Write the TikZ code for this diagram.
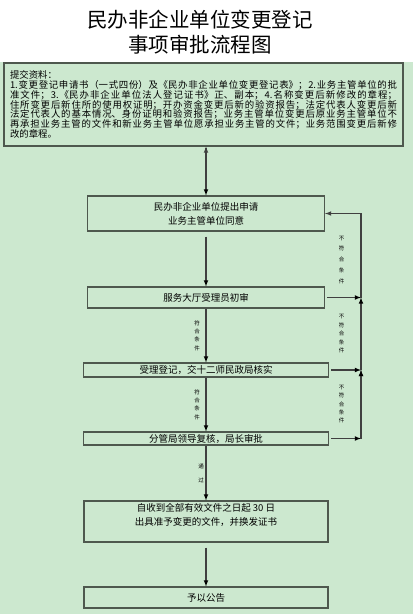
\documentclass[tikz,border=0pt]{standalone}
\usepackage{fontspec}
\newfontfamily\cjk{Noto Sans CJK SC}
\XeTeXlinebreaklocale "zh"
\XeTeXlinebreakskip=0pt plus 1pt
\definecolor{eyegreen}{RGB}{204,232,207}
\definecolor{boxline}{RGB}{78,88,78}

\begin{document}
\begin{tikzpicture}[x=1pt, y=-1pt, >=latex,
  box/.style={draw=boxline, line width=1.2pt, fill=eyegreen, inner xsep=2pt, inner ysep=0.5pt,
    align=center, font=\cjk\fontsize{9.5}{14}\selectfont},
  lbl/.style={inner sep=0pt, align=center, text=black, font=\cjk\fontsize{5.5}{8.4}\selectfont},
  lblwide/.style={lbl, font=\cjk\fontsize{5.5}{10.7}\selectfont},
  link/.style={->, draw=black!75, line width=1.1pt}]

  \useasboundingbox (0,0) rectangle (413,614);
  \fill[white] (0,0) rectangle (413,62);
  \fill[eyegreen] (0,62) rectangle (413,614);

  \node[font=\cjk\fontsize{20.5}{24}\selectfont] (title1) at (200,20) {民办非企业单位变更登记};
  \node[font=\cjk\fontsize{20.5}{24}\selectfont] (title2) at (200,45) {事项审批流程图};

  \node[box, minimum width=399pt, minimum height=83pt, text width=387pt, align=justify,
    font=\cjk\fontsize{9.4}{9.7}\selectfont] (materials) at (203.5,104.5)
    {提交资料：\par
     1.变更登记申请书（一式四份）及《民办非企业单位变更登记表》；2.业务主管单位的批\linebreak
     准文件；3.《民办非企业单位法人登记证书》正、副本；4.名称变更后新修改的章程；\linebreak
     住所变更后新住所的使用权证明；开办资金变更后新的验资报告；法定代表人变更后新\linebreak
     法定代表人的基本情况、身份证明和验资报告；业务主管单位变更后原业务主管单位不\linebreak
     再承担业务主管的文件和新业务主管单位愿承担业务主管的文件；业务范围变更后新修\linebreak
     改的章程。};

  \node[box, minimum width=237pt, minimum height=35pt] (b1) at (206,213.5)
    {民办非企业单位提出申请\\业务主管单位同意};
  \node[box, minimum width=237pt, minimum height=21pt] (b2) at (206,297.5) {服务大厅受理员初审};
  \node[box, minimum width=245pt, minimum height=14pt] (b3) at (206,370) {受理登记，交十二师民政局核实};
  \node[box, minimum width=245pt, minimum height=13pt] (b4) at (206,438.5) {分管局领导复核，局长审批};
  \node[box, minimum width=244pt, minimum height=41pt] (b5) at (206,521.5)
    {自收到全部有效文件之日起 30 日\\出具准予变更的文件，并换发证书\\\mbox{}};
  \node[box, minimum width=244pt, minimum height=21pt] (b6) at (206,597.5) {予以公告};

  \coordinate (rail) at (361,0);
  \coordinate (r1) at (b1.east -| rail);
  \coordinate (r2) at (b2.east -| rail);
  \coordinate (r3) at (b3.east -| rail);
  \coordinate (r4) at (b4.east -| rail);

  \path[link] (b1 |- materials.south) edge[shorten <=1pt] (b1)
        (b1) edge[shorten <=5pt] (b2)
        (b2) edge node[lbl, left=5.5pt, name=ok1] {符\\合\\条\\件} (b3)
        (b3) edge node[lbl, left=5.5pt, name=ok2] {符\\合\\条\\件} (b4)
        (b4) edge node[lbl, left=1.5pt, name=pass, font=\cjk\fontsize{5.5}{14}\selectfont] {通\\过} (b5)
        (b5) edge[shorten <=5pt] (b6);

  \path[link] (b2) edge[shorten <=2pt] (r2)
        (b3) edge[shorten <=2pt] (r3)
        (b4) edge[shorten <=2pt] (r4)
        (r4) edge node[lbl, left=16pt, name=no3] {不\\符\\合\\条\\件} (r3)
        (r3) edge node[lbl, left=16pt, name=no2] {不\\符\\合\\条\\件} (r2);
  \draw[link] (r2) -- node[lblwide, pos=0.45, left=16pt, name=no1] {不\\符\\合\\条\\件} (r1) -- (b1);

\end{tikzpicture}
\end{document}
